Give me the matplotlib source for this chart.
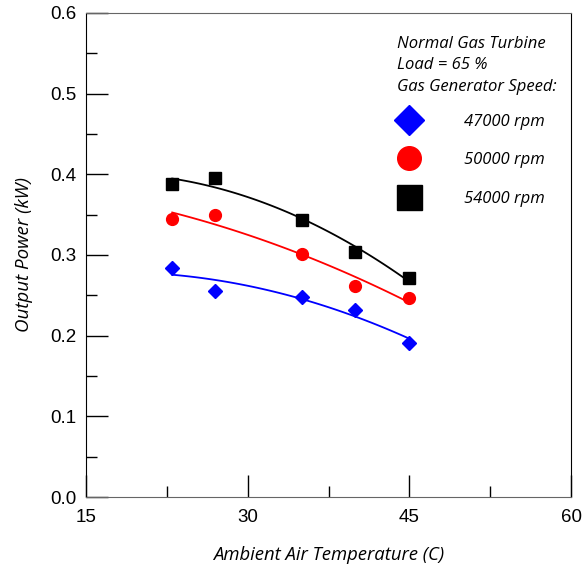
import matplotlib.pyplot as plt
import numpy as np
from matplotlib.ticker import MultipleLocator

# data
temp = [23, 27, 35, 40, 45]
p_47000 = [0.284, 0.255, 0.248, 0.232, 0.191]
p_50000 = [0.345, 0.350, 0.301, 0.262, 0.247]
p_54000 = [0.388, 0.395, 0.343, 0.304, 0.271]
labels = ['47000 rpm', '50000 rpm', '54000 rpm']
note = 'Normal Gas Turbine\nLoad = 65 %\nGas Generator Speed:'

fig = plt.figure(figsize=(5.86, 5.64), dpi=100)
ax = fig.add_axes([86/586, 1-497/564, (571-86)/586, (497-13)/564])

series = [(p_47000, 'blue', 'D', 7.5), (p_50000, 'red', 'o', 8.5), (p_54000, 'black', 's', 9)]
handles = []
xfit = np.linspace(min(temp), max(temp), 100)
for (vals, col, mk, ms), lab in zip(series, labels):
    coef = np.polyfit(temp, vals, 2)
    ax.plot(xfit, np.polyval(coef, xfit), color=col, lw=1.3)
    h, = ax.plot(temp, vals, mk, color=col, ms=ms, mec=col, ls='none', label=lab)
    handles.append(h)

ax.set_xlim(15, 60)
ax.set_ylim(0, 0.6)
ax.xaxis.set_major_locator(MultipleLocator(15))
ax.xaxis.set_minor_locator(MultipleLocator(7.5))
ax.yaxis.set_major_locator(MultipleLocator(0.1))
ax.yaxis.set_minor_locator(MultipleLocator(0.05))
ax.yaxis.set_major_formatter(plt.FormatStrFormatter('%.1f'))
ax.tick_params(which='both', direction='in', labelsize=13.5, width=1, colors='black')
ax.tick_params(which='major', length=16)
ax.tick_params(which='minor', length=8)
ax.tick_params(axis='x', pad=9)
ax.tick_params(axis='y', pad=7)
for lab in ax.get_xticklabels() + ax.get_yticklabels():
    lab.set_family('Liberation Sans')
for s in ['top', 'bottom']:
    ax.spines[s].set_color('#666666')
for s in ['left', 'right']:
    ax.spines[s].set_color('black')

ax.set_xlabel('Ambient Air Temperature (C)', family='Open Sans', style='italic',
              size=13.3, labelpad=14)
ax.set_ylabel('Output Power (kW)', family='Open Sans', style='italic', size=13.5)
ax.yaxis.set_label_coords(-0.109, 0.5)

leg_font = dict(family='Open Sans', style='italic', size=12)
ax.text((397-86)/485, 0.953, note, transform=ax.transAxes, ha='left', va='top',
        linespacing=1.47, **leg_font)
leg = ax.legend(handles=handles, loc='upper left', bbox_to_anchor=((397-86)/485, 0.792),
                frameon=False, borderpad=0, borderaxespad=0,
                markerscale=2.0, handlelength=1.45, handletextpad=2.6,
                labelspacing=1.35, prop=leg_font)

fig.savefig('out.png', dpi=100)
